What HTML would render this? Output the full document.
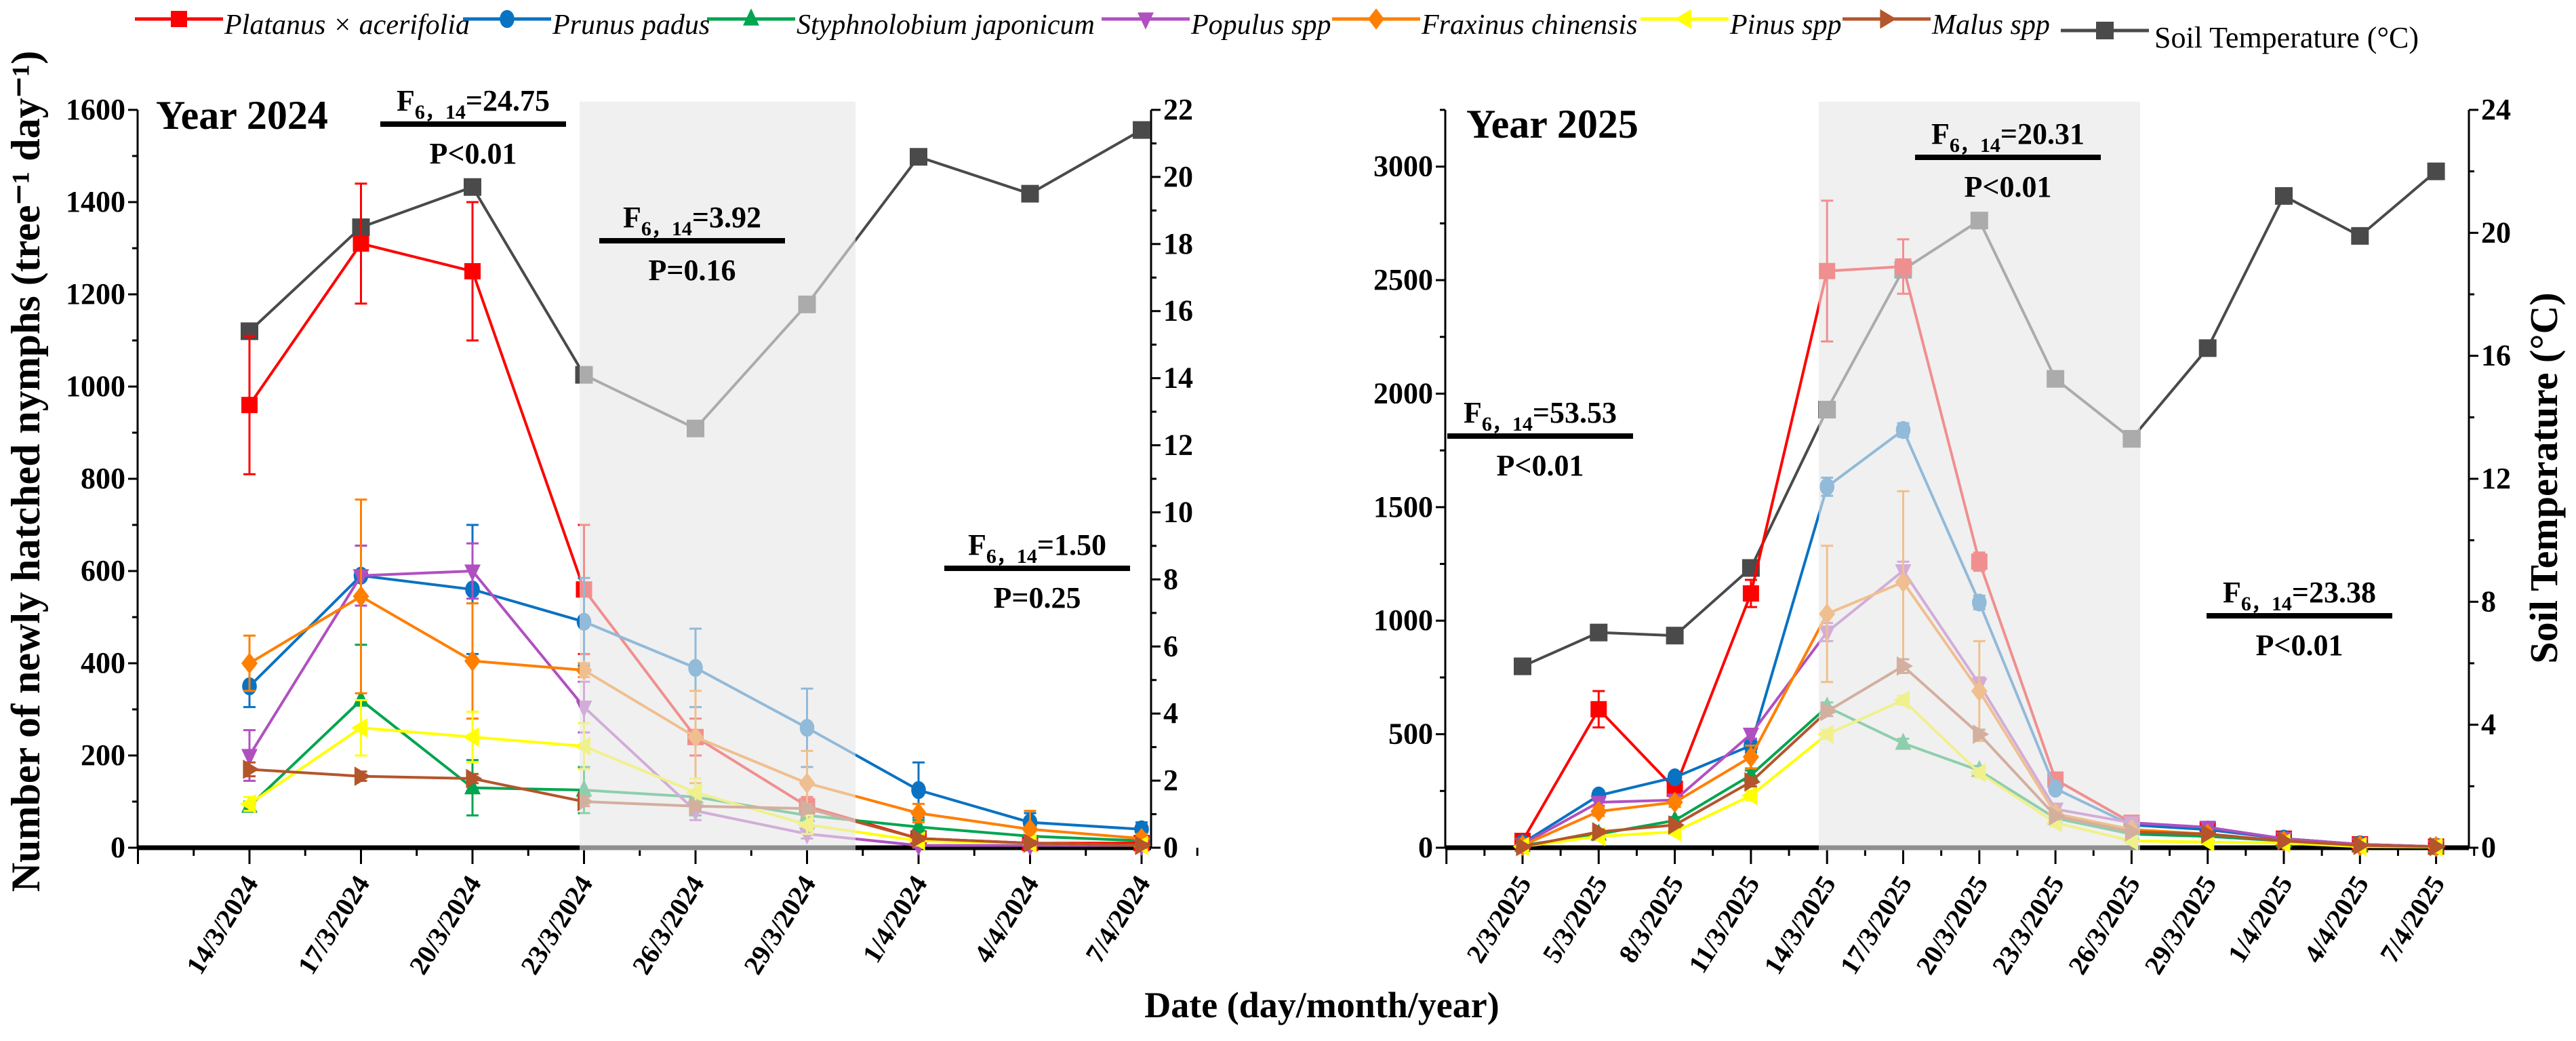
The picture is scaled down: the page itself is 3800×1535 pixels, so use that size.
<!DOCTYPE html>
<html><head><meta charset="utf-8"><style>
html,body{margin:0;padding:0;background:#fff;}
svg{display:block;font-family:"Liberation Serif",serif;}
</style></head><body>
<svg id="chart" width="3800" height="1535" viewBox="0 0 3800 1535" xmlns="http://www.w3.org/2000/svg"></svg>
<script>
const dates2024 = ["14/3/2024","17/3/2024","20/3/2024","23/3/2024","26/3/2024","29/3/2024","1/4/2024","4/4/2024","7/4/2024"];
const dates2025 = ["2/3/2025","5/3/2025","8/3/2025","11/3/2025","14/3/2025","17/3/2025","20/3/2025","23/3/2025","26/3/2025","29/3/2025","1/4/2025","4/4/2025","7/4/2025"];
const speciesNames = ["Platanus × acerifolia","Prunus padus","Styphnolobium japonicum","Populus spp","Fraxinus chinensis","Pinus spp","Malus spp"];
const speciesColors = ["#ff0000","#0a72c2","#00a54f","#b050c0","#ff7f00","#ffff00","#b4552b"];
const speciesMarkers = ["square","circle","up","down","diamond","left","right"];
// 2024 means
const platanus2024 = [960,1310,1250,560,240,90,20,10,10];
const prunus2024 = [350,590,560,490,390,260,125,55,40];
const styph2024 = [90,320,130,125,110,70,45,25,15];
const populus2024 = [200,590,600,305,80,30,5,5,5];
const fraxinus2024 = [400,545,405,385,240,140,75,40,20];
const pinus2024 = [95,260,240,220,120,50,15,10,5];
const malus2024 = [170,155,150,100,90,85,20,10,5];
// 2024 errors
const platanusErr2024 = [150,130,150,140,40,20,10,5,5];
const prunusErr2024 = [45,65,140,95,85,85,60,20,15];
const styphErr2024 = [10,120,60,50,40,20,15,10,5];
const populusErr2024 = [55,65,60,55,20,10,5,5,5];
const fraxinusErr2024 = [60,210,125,15,100,70,20,40,10];
const pinusErr2024 = [15,60,55,50,30,20,10,5,5];
const malusErr2024 = [15,10,10,10,10,10,5,5,5];
const temp2024 = [15.4,18.5,19.7,14.1,12.5,16.2,20.6,19.5,21.4];
// 2025 means
const platanus2025 = [30,610,260,1120,2540,2560,1260,300,110,80,40,15,5];
const prunus2025 = [20,230,310,450,1590,1840,1080,260,100,80,40,15,5];
const styph2025 = [10,60,120,320,620,460,340,130,60,50,30,10,5];
const populus2025 = [15,200,210,500,950,1220,720,170,110,90,40,15,5];
const fraxinus2025 = [10,160,200,400,1030,1170,690,150,80,60,30,10,5];
const pinus2025 = [5,50,70,230,500,650,330,110,30,25,20,5,3];
const malus2025 = [5,70,100,290,600,800,500,140,70,60,30,10,5];
const platanusErr2025 = [20,80,40,60,310,120,40,30,20,10,10,5,5];
const prunusErr2025 = [10,20,20,30,40,30,30,20,15,10,10,5,5];
const styphErr2025 = [5,10,15,20,20,20,20,15,10,10,5,5,5];
const populusErr2025 = [5,15,15,20,40,40,30,20,15,10,10,5,5];
const fraxinusErr2025 = [5,20,20,50,300,400,220,20,15,10,5,5,5];
const pinusErr2025 = [5,10,10,20,20,20,20,15,10,10,5,5,5];
const malusErr2025 = [5,10,10,20,20,30,20,15,10,10,5,5,5];
const temp2025 = [5.9,7.0,6.9,9.1,14.25,18.8,20.4,15.25,13.3,16.25,21.2,19.9,22.0];
const leftTicks2024 = [0,200,400,600,800,1000,1200,1400,1600];
const rightTicks2024 = [0,2,4,6,8,10,12,14,16,18,20,22];
const leftTicks2025 = [0,500,1000,1500,2000,2500,3000];
const rightTicks2025 = [0,4,8,12,16,20,24];

const NS="http://www.w3.org/2000/svg";
const svg=document.getElementById('chart');
function mk(tag,attrs,parent){const e=document.createElementNS(NS,tag);for(const k in attrs)e.setAttribute(k,attrs[k]);(parent||svg).appendChild(e);return e;}

function marker(g,type,x,y,color,s){
  let e;
  if(type==="square") e=mk('rect',{x:x-s,y:y-s,width:2*s,height:2*s,fill:color},g);
  else if(type==="circle") e=mk('ellipse',{cx:x,cy:y,rx:s*0.9,ry:s*1.1,fill:color},g);
  else {
    let p;
    if(type==="up") p=[[x,y-s*1.3],[x-s,y+s*0.8],[x+s,y+s*0.8]];
    else if(type==="down") p=[[x,y+s*1.3],[x-s,y-s*0.8],[x+s,y-s*0.8]];
    else if(type==="diamond") p=[[x,y-s*1.3],[x+s,y],[x,y+s*1.3],[x-s,y]];
    else if(type==="left") p=[[x-s*1.2,y],[x+s*0.8,y-s*1.2],[x+s*0.8,y+s*1.2]];
    else p=[[x+s*1.2,y],[x-s*0.8,y-s*1.2],[x-s*0.8,y+s*1.2]];
    e=mk('polygon',{points:p.map(q=>q.join(',')).join(' '),fill:color},g);
  }
  return e;
}

function drawPanel(cfg){
  const {x0,x1,yTop,yBot,lmax,rmax,cats,xs0,dx,series,errs,temp,lTicks,lMinor,rTicks,rMinor,shade,name}=cfg;
  const ly=v=>yBot-(v/lmax)*(yBot-yTop);
  const ry=v=>yBot-(v/rmax)*(yBot-yTop);
  const xp=i=>xs0+i*dx;
  const panel=mk('g',{});
  
  
  mk('line',{x1:x0,y1:yBot,x2:x1,y2:yBot,stroke:'#000','stroke-width':7},panel);
  mk('line',{x1:x0,y1:yTop,x2:x0,y2:yBot,stroke:'#000','stroke-width':3},panel);
  mk('line',{x1:x1,y1:yTop,x2:x1,y2:yBot,stroke:'#000','stroke-width':3},panel);
  for(let v=0;v<=lmax;v+=lMinor){mk('line',{x1:x0-(v%(lMinor*2)===0?14:8),y1:ly(v),x2:x0,y2:ly(v),stroke:'#000','stroke-width':3},panel);}
  lTicks.forEach(v=>{const t=mk('text',{x:x0-18,y:ly(v)+14,'text-anchor':'end','font-size':44,'font-weight':'bold'},panel);t.textContent=v;
    });
  for(let v=0;v<=rmax;v+=rMinor){mk('line',{x1:x1,y1:ry(v),x2:x1+(Math.round(v/rMinor)%2===0?14:8),y2:ry(v),stroke:'#000','stroke-width':3},panel);}
  rTicks.forEach(v=>{const t=mk('text',{x:x1+18,y:ry(v)+14,'font-size':44,'font-weight':'bold'},panel);t.textContent=v;
    });
  for(let i=-1;i<cats.length;i++){
    mk('line',{x1:xp(i),y1:yBot,x2:xp(i),y2:yBot+24,stroke:'#000','stroke-width':3},panel);
    mk('line',{x1:xp(i)+dx/2,y1:yBot,x2:xp(i)+dx/2,y2:yBot+12,stroke:'#000','stroke-width':3},panel);
  }
  cats.forEach((c,i)=>{const t=mk('text',{x:0,y:0,'text-anchor':'end','font-size':40,'font-weight':'bold',transform:`translate(${xp(i)+14},${yBot+52}) rotate(-58)`},panel);t.textContent=c;
    });
  const tg=mk('g',{},panel);
  
  
  mk('polyline',{points:temp.map((v,i)=>xp(i)+','+ry(v)).join(' '),fill:'none',stroke:'#4a4a4a','stroke-width':4},tg);
  temp.forEach((v,i)=>marker(tg,'square',xp(i),ry(v),'#4a4a4a',13));
  series.forEach((vals,s)=>{
    const g=mk('g',{},panel);
    
    
    const col=speciesColors[s];
    mk('polyline',{points:vals.map((v,i)=>xp(i)+','+ly(v)).join(' '),fill:'none',stroke:col,'stroke-width':4},g);
    vals.forEach((v,i)=>{
      const e=errs[s][i];
      mk('line',{x1:xp(i),y1:ly(v+e),x2:xp(i),y2:ly(Math.max(0,v-e)),stroke:col,'stroke-width':3},g);
      mk('line',{x1:xp(i)-9,y1:ly(v+e),x2:xp(i)+9,y2:ly(v+e),stroke:col,'stroke-width':3},g);
      mk('line',{x1:xp(i)-9,y1:ly(Math.max(0,v-e)),x2:xp(i)+9,y2:ly(Math.max(0,v-e)),stroke:col,'stroke-width':3},g);
      marker(g,speciesMarkers[s],xp(i),ly(v),col,12);
    });
  });
  const sh=mk('rect',{x:shade[0],y:yTop-12,width:shade[1]-shade[0],height:yBot-yTop+16,fill:'#e6e6e6','fill-opacity':0.62},panel);
  
  
}

drawPanel({name:'year-2024',x0:203,x1:1698,yTop:162,yBot:1250,lmax:1600,rmax:22,cats:dates2024,xs0:368,dx:164.5,
  series:[platanus2024,prunus2024,styph2024,populus2024,fraxinus2024,pinus2024,malus2024],
  errs:[platanusErr2024,prunusErr2024,styphErr2024,populusErr2024,fraxinusErr2024,pinusErr2024,malusErr2024],
  temp:temp2024,lTicks:leftTicks2024,lMinor:100,rTicks:rightTicks2024,rMinor:1,shade:[855,1262]});
drawPanel({name:'year-2025',x0:2132,x1:3642,yTop:162,yBot:1250,lmax:3250,rmax:24,cats:dates2025,xs0:2246,dx:112.3,
  series:[platanus2025,prunus2025,styph2025,populus2025,fraxinus2025,pinus2025,malus2025],
  errs:[platanusErr2025,prunusErr2025,styphErr2025,populusErr2025,fraxinusErr2025,pinusErr2025,malusErr2025],
  temp:temp2025,lTicks:leftTicks2025,lMinor:250,rTicks:rightTicks2025,rMinor:2,shade:[2683,3157]});

function stat(cx,y,f,p,nm){
  const g=mk('g',{});
  
  
  const t=mk('text',{x:cx,y:y+14,'text-anchor':'middle','font-size':44,'font-weight':'bold'},g);
  t.innerHTML='F<tspan font-size="30" dy="12">6，14</tspan><tspan dy="-12">='+f+'</tspan>';
  mk('line',{x1:cx-137,y1:y+34,x2:cx+137,y2:y+34,stroke:'#000','stroke-width':8},g);
  const t2=mk('text',{x:cx,y:y+92,'text-anchor':'middle','font-size':44,'font-weight':'bold'},g);t2.textContent=p;
}
stat(698,149,'24.75','P<0.01','stat-2024-a');
stat(1021,321,'3.92','P=0.16','stat-2024-b');
stat(1530,804,'1.50','P=0.25','stat-2024-c');
stat(2272,609,'53.53','P<0.01','stat-2025-a');
stat(2962,198,'20.31','P<0.01','stat-2025-b');
stat(3392,874,'23.38','P<0.01','stat-2025-c');

function txt(x,y,s,attrs,nm){const t=mk('text',Object.assign({x:x,y:y},attrs));t.textContent=s;
  return t;}
txt(230,190,'Year 2024',{'font-size':60,'font-weight':'bold'},'year-2024-label');
txt(2163,203,'Year 2025',{'font-size':60,'font-weight':'bold'},'year-2025-label');
txt(1950,1500,'Date (day/month/year)',{'font-size':54,'font-weight':'bold','text-anchor':'middle'},'x-axis-title');
txt(0,0,'Number of newly hatched nymphs (tree⁻¹ day⁻¹)',{'font-size':60,'font-weight':'bold','text-anchor':'middle',transform:'translate(58,695) rotate(-90)'},'y-axis-title-left');
txt(0,0,'Soil Temperature (°C)',{'font-size':58,'font-weight':'bold','text-anchor':'middle',transform:'translate(3772,705) rotate(-90)'},'y-axis-title-right');

const legX=[199,683,1043,1625,1965,2420,2718];
const legLen=[130,130,130,130,130,130,130];
speciesNames.forEach((n,i)=>{
  const g=mk('g',{});
  
  
  mk('line',{x1:legX[i],y1:28,x2:legX[i]+legLen[i],y2:28,stroke:speciesColors[i],'stroke-width':5},g);
  marker(g,speciesMarkers[i],legX[i]+65,28,speciesColors[i],12);
  const t=mk('text',{x:legX[i]+legLen[i]+2,y:50,'font-size':42,'font-style':'italic'},g);t.textContent=n;
});
{
  const g=mk('g',{});
  
  
  mk('line',{x1:3040,y1:45,x2:3170,y2:45,stroke:'#4a4a4a','stroke-width':5},g);
  marker(g,'square',3105,45,'#4a4a4a',13);
  const t=mk('text',{x:3178,y:70,'font-size':44},g);t.textContent='Soil Temperature (°C)';
}
</script>
</body></html>
